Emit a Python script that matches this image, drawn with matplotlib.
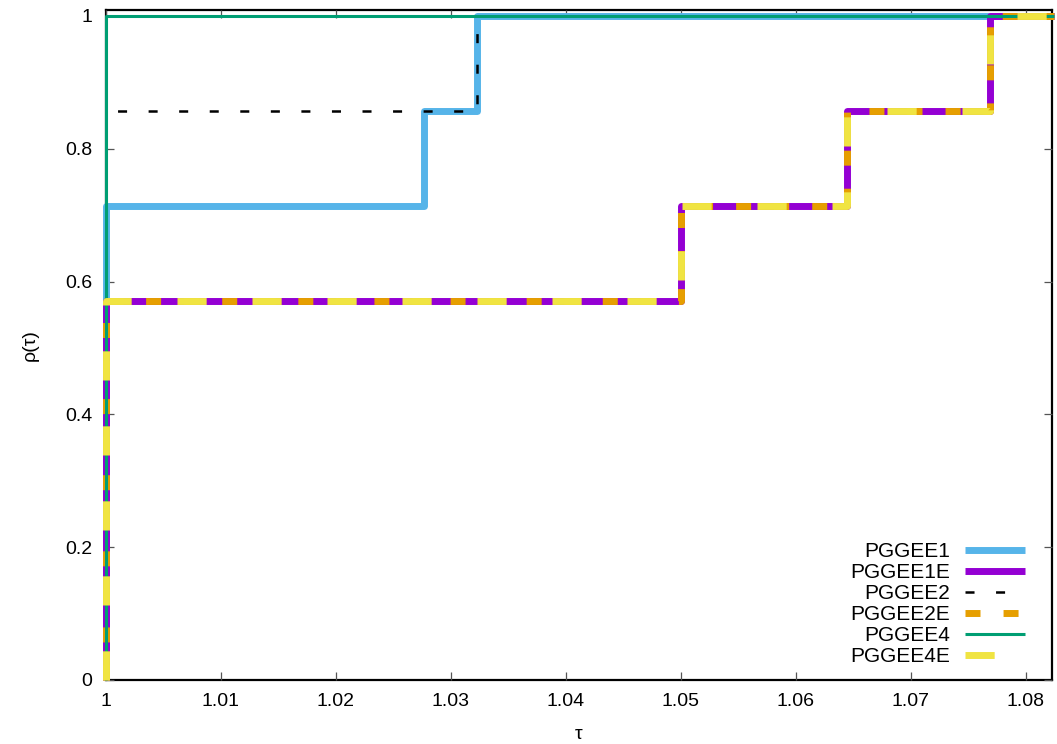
import numpy as np
import matplotlib.pyplot as plt

plt.rcParams['font.family'] = ['Liberation Sans', 'DejaVu Sans']
plt.rcParams['lines.scale_dashes'] = False

# performance profile data (7 problems), tau breakpoints and fraction solved
n_problems = 7
tau_end = 1.0825

tau_pggee1 = [1.0, 1.0, 1.0277, 1.0323, tau_end]
cnt_pggee1 = [0, 5, 6, 7, 7]

tau_pggee1e = [1.0, 1.0, 1.05, 1.0645, 1.0769, tau_end]
cnt_pggee1e = [0, 4, 5, 6, 7, 7]

tau_pggee2 = [1.0, 1.0, 1.0323, tau_end]
cnt_pggee2 = [0, 6, 7, 7]

tau_pggee2e = [1.0, 1.0, 1.05, 1.0645, 1.0769, tau_end]
cnt_pggee2e = [0, 4, 5, 6, 7, 7]

tau_pggee4 = [1.0, 1.0, tau_end]
cnt_pggee4 = [0, 7, 7]

tau_pggee4e = [1.0, 1.0, 1.05, 1.0645, 1.0769, tau_end]
cnt_pggee4e = [0, 4, 5, 6, 7, 7]

labels = ['PGGEE1', 'PGGEE1E', 'PGGEE2', 'PGGEE2E', 'PGGEE4', 'PGGEE4E']
xticks = [1.0, 1.01, 1.02, 1.03, 1.04, 1.05, 1.06, 1.07, 1.08]
xticklabels = ['1', '1.01', '1.02', '1.03', '1.04', '1.05', '1.06', '1.07', '1.08']
yticks = [0, 0.2, 0.4, 0.6, 0.8, 1.0]
yticklabels = ['0', '0.2', '0.4', '0.6', '0.8', '1']

series = [
    (tau_pggee1, cnt_pggee1, dict(color='#56b4e9', lw=5.0)),
    (tau_pggee1e, cnt_pggee1e, dict(color='#9400d3', lw=5.0)),
    (tau_pggee2, cnt_pggee2, dict(color='black', lw=1.8, dashes=(6.5, 15.5))),
    (tau_pggee2e, cnt_pggee2e, dict(color='#e69f00', lw=5.0, dashes=(10.8, 16.6))),
    (tau_pggee4, cnt_pggee4, dict(color='#009e73', lw=2.2)),
    (tau_pggee4e, cnt_pggee4e, dict(color='#f0e442', lw=5.0, dashes=(21.0, 33.0))),
]

fig = plt.figure(figsize=(10.57, 7.44), dpi=100)
ax = fig.add_axes([106 / 1057, 1 - 680 / 744, 946 / 1057, 670 / 744])

for (tau, cnt, style), lab in zip(series, labels):
    rho = np.array(cnt) / n_problems
    ax.plot(tau, rho, drawstyle='steps-post', label=lab, clip_on=False,
            solid_capstyle='butt', dash_capstyle='butt', **style)

ax.set_xlim(1.0, 1.0823)
ax.set_ylim(0, 1.009)
ax.set_xticks(xticks)
ax.set_xticklabels(xticklabels)
ax.set_yticks(yticks)
ax.set_yticklabels(yticklabels)
ax.tick_params(direction='in', length=6, width=0.9, color='#555555',
               labelsize=14, top=True, right=True)
ax.tick_params(axis='x', pad=9)
ax.tick_params(axis='y', pad=10)
for sp in ax.spines.values():
    sp.set_linewidth(1.6)
    sp.set_zorder(0.5)

ax.set_xlabel('τ', fontsize=14, labelpad=12)
ax.set_ylabel('ρ(τ)', fontsize=14, labelpad=19)

# markerfirst=False right-aligns the rows, gnuplot style
ax.legend(loc='lower right', bbox_to_anchor=(1.0, -0.02), frameon=False,
          fontsize=15, markerfirst=False, handlelength=2.9, handletextpad=0.7,
          labelspacing=0.1, borderaxespad=0.9, borderpad=0.4)

fig.savefig('out.png', dpi=100)
